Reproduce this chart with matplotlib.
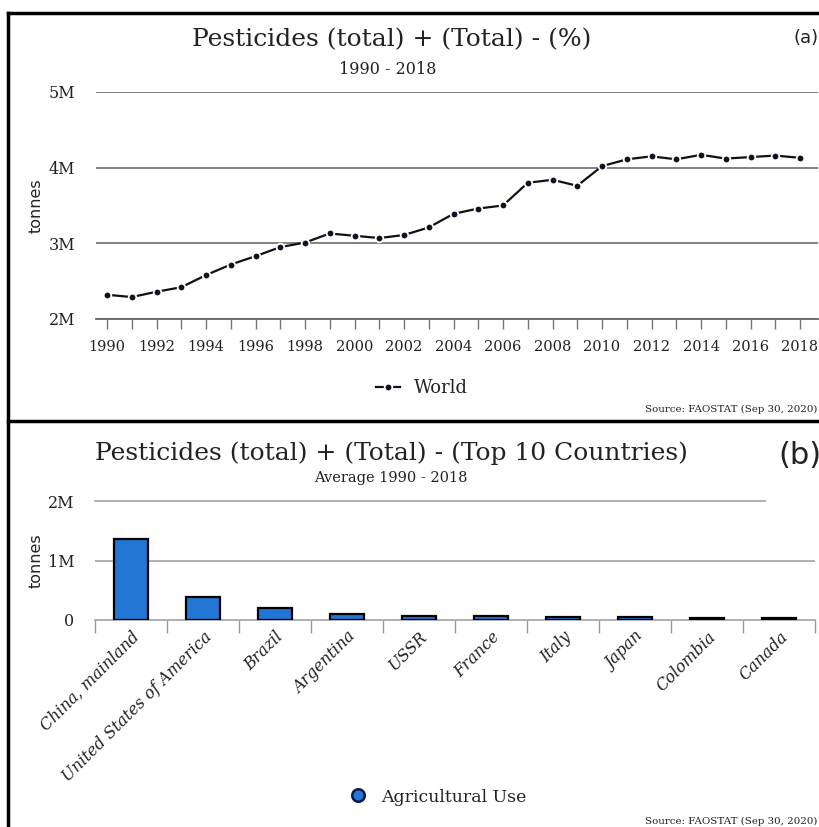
import matplotlib
matplotlib.use("Agg")
import matplotlib.pyplot as plt
from matplotlib.lines import Line2D

# ---------------- data ----------------
years = list(range(1990, 2019))
world_tonnes = [2.32, 2.29, 2.36, 2.42, 2.58, 2.72, 2.83, 2.95, 3.01, 3.13,
                3.10, 3.07, 3.11, 3.21, 3.39, 3.46, 3.50, 3.80, 3.84, 3.76,
                4.02, 4.11, 4.15, 4.11, 4.17, 4.12, 4.14, 4.16, 4.13]  # millions
top_yticks = [2e6, 3e6, 4e6, 5e6]
top_yticklabels = ["2M", "3M", "4M", "5M"]
year_ticks = list(range(1990, 2019, 2))

countries = ["China, mainland", "United States of America", "Brazil", "Argentina",
             "USSR", "France", "Italy", "Japan", "Colombia", "Canada"]
country_avg = [1.36, 0.38, 0.21, 0.10, 0.065, 0.065, 0.045, 0.045, 0.03, 0.03]  # millions
bot_yticks = [0, 1e6, 2e6]
bot_yticklabels = ["0", "1M", "2M"]

W, H = 820, 827
fig = plt.figure(figsize=(W / 100, H / 100), dpi=100)

SERIF = dict(family="DejaVu Serif")
SANS = dict(family="DejaVu Sans")
TXT = "#222222"


def px_axes(x0, y0, x1, y1):
    return fig.add_axes([x0 / W, 1 - y1 / H, (x1 - x0) / W, (y1 - y0) / H])


def fx(x):
    return x / W


def fy(y):
    return 1 - y / H


# ---------------- panel borders ----------------
fig.add_artist(Line2D([fx(8), fx(820)], [fy(13), fy(13)], color="black", lw=2.5))
fig.add_artist(Line2D([fx(8), fx(820)], [fy(421), fy(421)], color="black", lw=2.5))
fig.add_artist(Line2D([fx(8), fx(8)], [fy(13), fy(827)], color="black", lw=2.5))

# ---------------- top panel ----------------
ax1 = px_axes(96, 92, 818, 319)
vals1 = [v * 1e6 for v in world_tonnes]
ax1.plot(years, vals1, color="#111111", lw=1.6, marker="o", markersize=5.5,
         markerfacecolor="#111122", markeredgecolor="white", markeredgewidth=1.3,
         zorder=3, clip_on=False)
step = (800 - 107) / 28
ax1.set_xlim(1990 - 11 / step, 2018 + 18 / step)
ax1.set_ylim(2e6, 5e6)
ax1.set_yticks(top_yticks)
ax1.set_yticklabels(top_yticklabels, fontsize=11.5, color=TXT, **SERIF)
ax1.set_xticks(years)
ax1.set_xticklabels([str(y) if y in year_ticks else "" for y in years],
                    fontsize=10.5, color=TXT, **SERIF)
for sp in ["top", "right", "left"]:
    ax1.spines[sp].set_visible(False)
ax1.spines["bottom"].set_color("#666666")
ax1.spines["bottom"].set_linewidth(1.3)
ax1.grid(axis="y", color="#777777", lw=1.3)
ax1.set_axisbelow(True)
ax1.tick_params(axis="y", length=0, pad=15)
ax1.tick_params(axis="x", length=7, width=1, color="#777777", pad=8)
fig.text(fx(36), fy(206), "tonnes", rotation=90, ha="center", va="center",
         fontsize=11.5, color=TXT, **SANS)

fig.text(fx(392), fy(40), "Pesticides (total) + (Total) - (%)", ha="center", va="center",
         fontsize=18, color=TXT, **SERIF)
fig.text(fx(388), fy(69), "1990 - 2018", ha="center", va="center",
         fontsize=11.5, color=TXT, **SERIF)
fig.text(fx(806), fy(38), "(a)", ha="center", va="center", fontsize=13,
         color=TXT, **SANS)
leg1 = ax1.legend(handles=[Line2D([], [], color="#111111", lw=1.6, marker="o",
                                  markersize=5.5, markerfacecolor="#111122",
                                  markeredgecolor="white", markeredgewidth=1.3,
                                  label="World")],
                  loc="center", bbox_to_anchor=(fx(422), fy(388)),
                  bbox_transform=fig.transFigure, frameon=False,
                  prop=dict(size=13, **SERIF), handlelength=1.3, handletextpad=0.8)
for t in leg1.get_texts():
    t.set_color(TXT)
fig.text(fx(817), fy(409), "Source: FAOSTAT (Sep 30, 2020)", ha="right", va="center",
         fontsize=7.4, color=TXT, **SERIF)

# ---------------- bottom panel ----------------
ax2 = px_axes(95, 501, 815, 620)
xpos = list(range(len(countries)))
ax2.bar(xpos, [v * 1e6 for v in country_avg], width=0.46, color="#2277d4",
        edgecolor="black", linewidth=1.6, zorder=3)
ax2.set_xlim(-0.5, len(countries) - 0.5)
ax2.set_ylim(0, 2e6)
ax2.set_yticks(bot_yticks)
ax2.set_yticklabels(bot_yticklabels, fontsize=11.5, color=TXT, **SERIF)
ax2.set_xticks([i - 0.5 for i in range(len(countries) + 1)])
ax2.set_xticklabels([])
ax2.set_xticks(xpos, minor=True)
ax2.set_xticklabels(countries, minor=True, rotation=45, ha="right",
                    rotation_mode="anchor", fontsize=11.5, style="italic",
                    color=TXT, **SERIF)
ax2.tick_params(axis="x", which="minor", length=0, pad=6)
ax2.tick_params(axis="x", which="major", length=9, width=1, color="#999999")
ax2.tick_params(axis="y", length=0, pad=15)
for sp in ["top", "right", "left"]:
    ax2.spines[sp].set_visible(False)
ax2.spines["bottom"].set_color("#aaaaaa")
ax2.spines["bottom"].set_linewidth(1.3)
ax2.axhline(1e6, color="#aaaaaa", lw=1.3, zorder=1)
ax2.axhline(2e6, xmax=(765 - 95) / 720, color="#aaaaaa", lw=1.3, zorder=1, clip_on=False)
fig.text(fx(36), fy(561), "tonnes", rotation=90, ha="center", va="center",
         fontsize=11.5, color=TXT, **SANS)

fig.text(fx(391), fy(453), "Pesticides (total) + (Total) - (Top 10 Countries)",
         ha="center", va="center", fontsize=18, color=TXT, **SERIF)
fig.text(fx(391), fy(478), "Average 1990 - 2018", ha="center", va="center",
         fontsize=10.5, color=TXT, **SERIF)
fig.text(fx(800), fy(455), "(b)", ha="center", va="center", fontsize=22,
         color=TXT, **SANS)
leg2 = ax2.legend(handles=[Line2D([], [], lw=0, marker="o", markersize=9,
                                  markerfacecolor="#2277d4", markeredgecolor="#0a1a4a",
                                  markeredgewidth=1.8, label="Agricultural Use")],
                  loc="center", bbox_to_anchor=(fx(438), fy(797)),
                  bbox_transform=fig.transFigure, frameon=False,
                  prop=dict(size=12.5, **SERIF), handlelength=1.0, handletextpad=0.8)
for t in leg2.get_texts():
    t.set_color(TXT)
fig.text(fx(817), fy(821), "Source: FAOSTAT (Sep 30, 2020)", ha="right", va="center",
         fontsize=7.4, color=TXT, **SERIF)

fig.savefig("out.png", dpi=100)
